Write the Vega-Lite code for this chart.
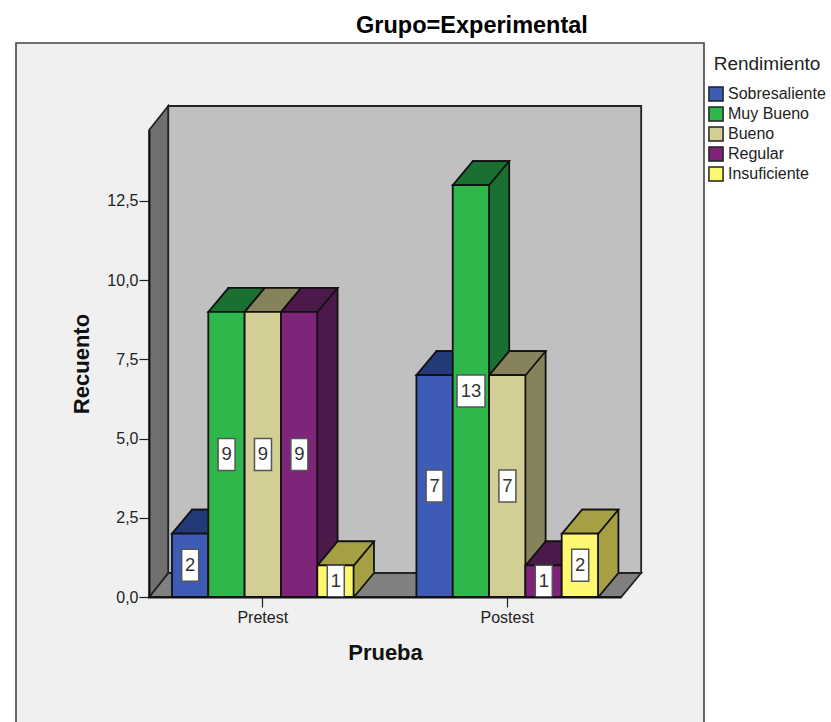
{
  "$schema": "https://vega.github.io/schema/vega-lite/v6.json",
  "width": 688,
  "height": 680,
  "padding": {"left": 16, "top": 43, "right": 127, "bottom": 0},
  "autosize": "none",
  "background": "white",
  "view": {"fill": "#f0f0f0", "stroke": "#444444", "strokeWidth": 1.6},
  "title": {"text": "Grupo=Experimental", "font": "Liberation Sans", "fontSize": 23.5, "fontWeight": "bold", "color": "black", "dx": 112, "offset": 6},
  "datasets": {
    "recuentos": [
      {"prueba": "Pretest", "rendimiento": "Sobresaliente", "recuento": 2},
      {"prueba": "Pretest", "rendimiento": "Muy Bueno", "recuento": 9},
      {"prueba": "Pretest", "rendimiento": "Bueno", "recuento": 9},
      {"prueba": "Pretest", "rendimiento": "Regular", "recuento": 9},
      {"prueba": "Pretest", "rendimiento": "Insuficiente", "recuento": 1},
      {"prueba": "Postest", "rendimiento": "Sobresaliente", "recuento": 7},
      {"prueba": "Postest", "rendimiento": "Muy Bueno", "recuento": 13},
      {"prueba": "Postest", "rendimiento": "Bueno", "recuento": 7},
      {"prueba": "Postest", "rendimiento": "Regular", "recuento": 1},
      {"prueba": "Postest", "rendimiento": "Insuficiente", "recuento": 2}
    ]
  },
  "data": {"name": "recuentos"},
  "encoding": {
    "x": {
      "field": "prueba", "type": "nominal", "sort": ["Pretest", "Postest"],
      "scale": {"range": [133, 605], "paddingInner": 0.257, "paddingOuter": 0.094},
      "axis": {"title": "Prueba", "offset": -126, "zindex": 1, "labelAngle": 0, "labelFont": "Liberation Sans", "labelFontSize": 16, "labelColor": "#222222", "labelPadding": 2, "tickSize": 10, "tickColor": "#222222", "tickWidth": 1.2, "domainColor": "#111111", "domainWidth": 1.8, "titleFont": "Liberation Sans", "titleFontSize": 22, "titleFontWeight": "bold", "titleColor": "#111111", "titlePadding": 17}
    },
    "xOffset": {"field": "rendimiento", "type": "nominal", "scale": {"type": "point", "padding": 0, "domain": ["Sobresaliente", "Muy Bueno", "Bueno", "Regular", "Insuficiente"], "range": [0, 145.6]}},
    "y": {"field": "recuento", "type": "quantitative", "axis": null, "scale": {"domain": [0, 14.74], "range": [554, 87]}}
  },
  "layer": [
    {
      "description": "Back wall of the 3D box, anchored on the first bar's floor corner",
      "transform": [{"filter": "datum.prueba == 'Pretest' && datum.rendimiento == 'Sobresaliente'"}],
      "mark": {"type": "point", "shape": "M-3.8,-24L469.2,-24L469.2,-491L-3.8,-491Z", "size": 4, "filled": true, "opacity": 1, "fill": "#c0c0c0", "stroke": "#222222", "strokeWidth": 1.8},
      "encoding": {"y": {"datum": 0, "type": "quantitative", "axis": null, "scale": {"domain": [0, 14.74], "range": [554, 87]}}}
    },
    {
      "description": "Floor of the 3D box",
      "transform": [{"filter": "datum.prueba == 'Pretest' && datum.rendimiento == 'Sobresaliente'"}],
      "mark": {"type": "point", "shape": "M-22.8,0L449.2,0L469.2,-24L-3.8,-24Z", "size": 4, "filled": true, "opacity": 1, "fill": "#808080", "stroke": "#222222", "strokeWidth": 1.8},
      "encoding": {"y": {"datum": 0, "type": "quantitative", "axis": null, "scale": {"domain": [0, 14.74], "range": [554, 87]}}}
    },
    {
      "description": "Left wall of the 3D box",
      "transform": [{"filter": "datum.prueba == 'Pretest' && datum.rendimiento == 'Sobresaliente'"}],
      "mark": {"type": "point", "shape": "M-22.8,0L-3.8,-24L-3.8,-491L-22.8,-467Z", "size": 4, "filled": true, "opacity": 1, "fill": "#707070", "stroke": "#222222", "strokeWidth": 1.8},
      "encoding": {"y": {"datum": 0, "type": "quantitative", "axis": null, "scale": {"domain": [0, 14.74], "range": [554, 87]}}}
    },
    {
      "description": "Side faces: each bar repeated one depth step back",
      "mark": {"type": "bar", "yOffset": -24, "stroke": "#111111", "strokeWidth": 1.8},
      "encoding": {
        "xOffset": {"field": "rendimiento", "type": "nominal", "sort": ["Sobresaliente", "Muy Bueno", "Bueno", "Regular", "Insuficiente"], "scale": {"type": "band", "paddingInner": 0, "paddingOuter": 0, "range": [20, 202]}},
        "fill": {"field": "rendimiento", "type": "nominal", "legend": null, "scale": {"domain": ["Sobresaliente", "Muy Bueno", "Bueno", "Regular", "Insuficiente"], "range": ["#1f2f6b", "#1a7030", "#86825c", "#4c1a4a", "#a5a044"]}}
      }
    },
    {
      "description": "Lower end of the side faces",
      "mark": {"type": "point", "shape": "M36.4,0L55.8,-23.3L55.8,-25.5L36.4,-25.5Z", "size": 4, "filled": true, "opacity": 1, "strokeWidth": 0},
      "encoding": {
        "y": {"datum": 0, "type": "quantitative", "axis": null, "scale": {"domain": [0, 14.74], "range": [554, 87]}},
        "fill": {"field": "rendimiento", "type": "nominal", "legend": null, "scale": {"domain": ["Sobresaliente", "Muy Bueno", "Bueno", "Regular", "Insuficiente"], "range": ["#1f2f6b", "#1a7030", "#86825c", "#4c1a4a", "#a5a044"]}}
      }
    },
    {
      "description": "Lower slanted edge of the side faces",
      "mark": {"type": "point", "shape": "M36.4,0L56.4,-24", "size": 4, "filled": false, "opacity": 1, "stroke": "#111111", "strokeWidth": 1.8},
      "encoding": {
        "y": {"datum": 0, "type": "quantitative", "axis": null, "scale": {"domain": [0, 14.74], "range": [554, 87]}}
      }
    },
    {
      "description": "Top faces",
      "mark": {"type": "point", "shape": "M0,0L36.4,0L56.4,-24L20,-24Z", "size": 4, "filled": true, "opacity": 1, "stroke": "#111111", "strokeWidth": 1.8},
      "encoding": {
        "fill": {"field": "rendimiento", "type": "nominal", "legend": null, "scale": {"domain": ["Sobresaliente", "Muy Bueno", "Bueno", "Regular", "Insuficiente"], "range": ["#233a78", "#1a7030", "#86825c", "#4c1a4a", "#a5a044"]}}
      }
    },
    {
      "description": "Front faces, value axis and legend",
      "mark": {"type": "bar", "stroke": "#111111", "strokeWidth": 1.8},
      "encoding": {
        "xOffset": {"field": "rendimiento", "type": "nominal", "sort": ["Sobresaliente", "Muy Bueno", "Bueno", "Regular", "Insuficiente"], "scale": {"type": "band", "paddingInner": 0, "paddingOuter": 0}},
        "y": {
          "field": "recuento", "type": "quantitative",
          "scale": {"domain": [0, 14.74], "range": [554, 87]},
          "axis": {"title": "Recuento", "offset": -133, "zindex": 1, "values": [0, 2.5, 5, 7.5, 10, 12.5], "grid": false, "labelExpr": "replace(format(datum.value, '.1f'), '.', ',')", "labelFont": "Liberation Sans", "labelFontSize": 16, "labelColor": "#222222", "labelPadding": 1, "tickSize": 10, "tickColor": "#222222", "tickWidth": 1.2, "domainColor": "#111111", "domainWidth": 1.8, "titleFont": "Liberation Sans", "titleFontSize": 22, "titleFontWeight": "bold", "titleColor": "#111111", "titlePadding": 13}
        },
        "fill": {
          "field": "rendimiento", "type": "nominal",
          "scale": {"domain": ["Sobresaliente", "Muy Bueno", "Bueno", "Regular", "Insuficiente"], "range": ["#3e5bb5", "#2eb84c", "#d3cd96", "#7e2479", "#fdf86f"]},
          "legend": {"title": "Rendimiento", "orient": "none", "legendX": 692, "legendY": 12, "symbolType": "square", "symbolSize": 200, "symbolStrokeColor": "#222222", "symbolStrokeWidth": 1.5, "symbolOpacity": 1, "titleFont": "Liberation Sans", "titleFontSize": 19, "titleFontWeight": "normal", "titleColor": "#222222", "titleAnchor": "middle", "titlePadding": 12, "labelFont": "Liberation Sans", "labelFontSize": 16, "labelColor": "#222222", "labelOffset": 4, "rowPadding": -2, "labelLimit": 200}
        }
      }
    },
    {
      "description": "Value boxes, centred on half of each bar's height; two-digit counts get a wider box",
      "mark": {"type": "point", "size": 4, "filled": true, "opacity": 1, "fill": "white", "stroke": "#555555", "strokeWidth": 1.5},
      "encoding": {
        "y": {"field": "recuento", "type": "quantitative", "axis": null, "scale": {"domain": [0, 29.48], "range": [554, 87]}},
        "shape": {"condition": {"test": "datum.recuento >= 10", "value": "M4.2,-16L32.2,-16L32.2,16L4.2,16Z"}, "value": "M9.7,-16L26.7,-16L26.7,16L9.7,16Z"}
      }
    },
    {
      "description": "Value text",
      "mark": {"type": "text", "font": "Liberation Sans", "fontSize": 18.5, "color": "#333333", "baseline": "middle", "align": "center", "dx": 18.2},
      "encoding": {
        "y": {"field": "recuento", "type": "quantitative", "axis": null, "scale": {"domain": [0, 29.48], "range": [554, 87]}},
        "text": {"field": "recuento", "type": "quantitative"}
      }
    }
  ],
  "resolve": {"scale": {"y": "independent", "xOffset": "independent", "fill": "independent"}}
}
